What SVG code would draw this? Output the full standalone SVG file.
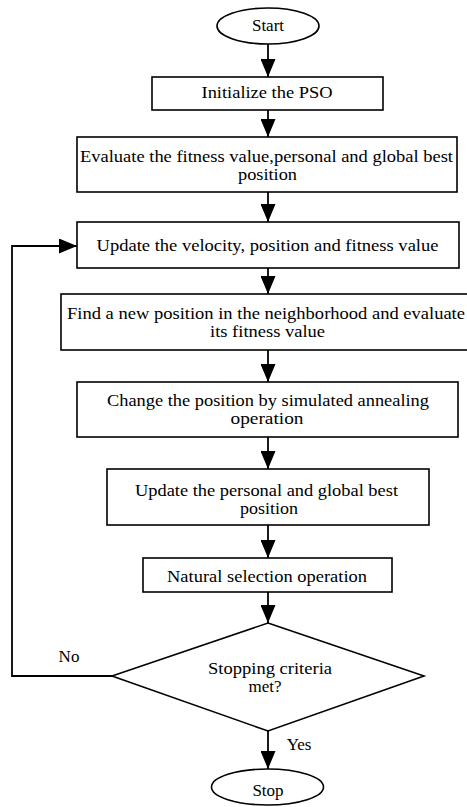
<svg xmlns="http://www.w3.org/2000/svg" width="467" height="807" viewBox="0 0 467 807">
<defs>
<style>
.box{fill:#fff;stroke:#000;stroke-width:1.6}
.t{font-family:"Liberation Serif","DejaVu Serif",serif;font-size:17px;fill:#000;text-anchor:middle}
.c{fill:none;stroke:#000;stroke-width:1.8}
</style>
<marker id="ah" markerUnits="userSpaceOnUse" markerWidth="18" markerHeight="15" refX="18" refY="7.5" orient="auto" viewBox="0 0 18 15">
<path d="M0,0 L18,7.5 L0,15 z" fill="#000"/>
</marker>
</defs>
<rect width="467" height="807" fill="#fff"/>
<g id="connectors">
<line class="c" x1="268" y1="44" x2="268" y2="77" marker-end="url(#ah)"/>
<line class="c" x1="268" y1="110" x2="268" y2="137" marker-end="url(#ah)"/>
<line class="c" x1="268" y1="192" x2="268" y2="222" marker-end="url(#ah)"/>
<line class="c" x1="268" y1="268" x2="268" y2="294" marker-end="url(#ah)"/>
<line class="c" x1="268" y1="350" x2="268" y2="382" marker-end="url(#ah)"/>
<line class="c" x1="268" y1="437" x2="268" y2="469" marker-end="url(#ah)"/>
<line class="c" x1="268" y1="525" x2="268" y2="558" marker-end="url(#ah)"/>
<line class="c" x1="268" y1="592" x2="268" y2="623" marker-end="url(#ah)"/>
<line class="c" x1="268" y1="731" x2="268" y2="769" marker-end="url(#ah)"/>
<polyline class="c" points="112,676 12,676 12,246 77,246" marker-end="url(#ah)"/>
<text class="t" x="69" y="662">No</text>
<text class="t" x="299" y="750">Yes</text>
</g>
<g id="start">
<ellipse class="box" cx="268" cy="26" rx="51" ry="18"/>
<text class="t" x="268" y="31">Start</text>
</g>
<g id="init">
<rect class="box" x="152" y="77" width="231" height="33"/>
<text class="t" x="267" y="98" textLength="131" lengthAdjust="spacingAndGlyphs">Initialize the PSO</text>
</g>
<g id="evaluate">
<rect class="box" x="77" y="137" width="380" height="55"/>
<text class="t" x="266.5" y="162" textLength="373" lengthAdjust="spacingAndGlyphs">Evaluate the fitness value,personal and global best</text>
<text class="t" x="267.5" y="180" textLength="59" lengthAdjust="spacingAndGlyphs">position</text>
</g>
<g id="update-velocity">
<rect class="box" x="77" y="222" width="382" height="46"/>
<text class="t" x="267.5" y="251" textLength="342" lengthAdjust="spacingAndGlyphs">Update the velocity, position and fitness value</text>
</g>
<g id="find">
<rect class="box" x="61" y="294" width="420" height="56"/>
<text class="t" x="266" y="319" textLength="398" lengthAdjust="spacingAndGlyphs">Find a new position in the neighborhood and evaluate</text>
<text class="t" x="267.5" y="337" textLength="115" lengthAdjust="spacingAndGlyphs">its fitness value</text>
</g>
<g id="change">
<rect class="box" x="77" y="382" width="381" height="55"/>
<text class="t" x="268" y="406" textLength="322" lengthAdjust="spacingAndGlyphs">Change the position by simulated annealing</text>
<text class="t" x="267" y="423.5" textLength="73" lengthAdjust="spacingAndGlyphs">operation</text>
</g>
<g id="update-best">
<rect class="box" x="107" y="469" width="322" height="56"/>
<text class="t" x="266.5" y="496" textLength="263" lengthAdjust="spacingAndGlyphs">Update the personal and global best</text>
<text class="t" x="269" y="514" textLength="58" lengthAdjust="spacingAndGlyphs">position</text>
</g>
<g id="natural">
<rect class="box" x="143" y="558" width="249" height="34"/>
<text class="t" x="267" y="582" textLength="200" lengthAdjust="spacingAndGlyphs">Natural selection operation</text>
</g>
<g id="decision">
<polygon class="box" points="268,623 424,676 268,731 112,676"/>
<text class="t" x="270" y="674" textLength="124" lengthAdjust="spacingAndGlyphs">Stopping criteria</text>
<text class="t" x="265" y="692">met?</text>
</g>
<g id="stop">
<ellipse class="box" cx="267.5" cy="787" rx="56" ry="18"/>
<text class="t" x="268" y="796">Stop</text>
</g>
</svg>
